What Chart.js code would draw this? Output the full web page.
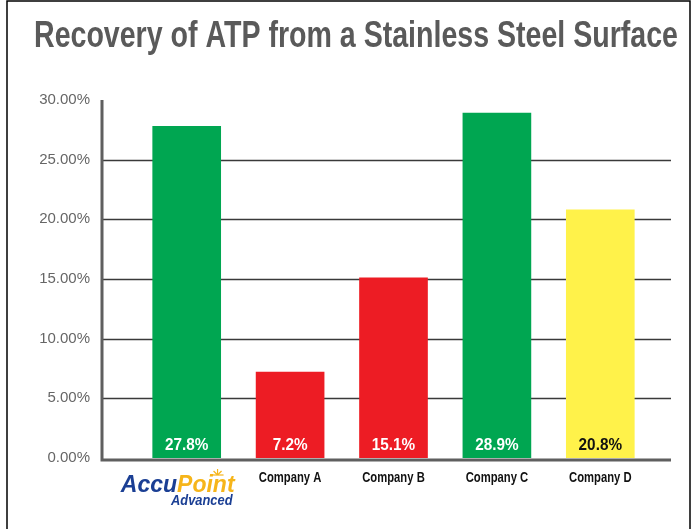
<!DOCTYPE html>
<html>
<head>
    <meta charset="UTF-8">
    <title>Recovery of ATP</title>
    <script src="https://cdn.jsdelivr.net/npm/chart.js"></script>
    <style>
        body { margin: 0; background: #fff; }
    </style>
</head>
<body>
    <canvas id="chart" width="694" height="529"></canvas>

    <script>
        // data
        const title = 'Recovery of ATP from a Stainless Steel Surface';
        const categories = ['AccuPoint Advanced', 'Company A', 'Company B', 'Company C', 'Company D'];
        const recovery = [27.8, 7.2, 15.1, 28.9, 20.8];
        const valueLabels = ['27.8%', '7.2%', '15.1%', '28.9%', '20.8%'];
        const yTickValues = [0, 5, 10, 15, 20, 25, 30];

        const barColors = ['#00a651', '#ed1c24', '#ed1c24', '#00a651', '#fff24a'];
        const labelColors = ['#fff', '#fff', '#fff', '#fff', '#111'];
        const sans = '"Liberation Sans", Arial, sans-serif';

        // condensed look: squeeze a normal bold face horizontally
        function squeezed(ctx, text, x, y, sx, align) {
            ctx.save();
            ctx.translate(x, y);
            ctx.scale(sx, 1);
            ctx.textAlign = align || 'center';
            ctx.fillText(text, 0, 0);
            ctx.restore();
        }

        const frame = {
            id: 'frame',
            beforeDatasetsDraw(chart) {
                const { ctx, chartArea: a, scales: { y } } = chart;
                const x0 = a.left - 33, x1 = a.right + 19;
                ctx.save();
                // outer frame
                ctx.strokeStyle = '#000';
                ctx.lineWidth = 1.5;
                ctx.beginPath();
                ctx.moveTo(7, chart.height);
                ctx.lineTo(7, 1);
                ctx.lineTo(690, 1);
                ctx.lineTo(690, chart.height);
                ctx.stroke();

                // title
                ctx.fillStyle = '#5a5a5a';
                ctx.font = 'bold 36px ' + sans;
                ctx.textBaseline = 'alphabetic';
                const w = ctx.measureText(title).width;
                squeezed(ctx, title, 34, 47, 644 / w, 'left');

                // grid lines
                ctx.strokeStyle = '#3a3a3a';
                ctx.lineWidth = 1.4;
                yTickValues.forEach(v => {
                    if (v === 0 || v === 30) return;
                    const py = Math.round(y.getPixelForValue(v)) + 0.5;
                    ctx.beginPath();
                    ctx.moveTo(x0, py);
                    ctx.lineTo(x1, py);
                    ctx.stroke();
                });
                ctx.restore();
            },
            afterDatasetsDraw(chart) {
                const { ctx, chartArea: a, scales: { x, y } } = chart;
                const x0 = a.left - 33, x1 = a.right + 19;
                const yb = y.getPixelForValue(0);
                ctx.save();
                // axis lines
                ctx.strokeStyle = '#5f5f5f';
                ctx.lineWidth = 3;
                ctx.beginPath();
                ctx.moveTo(x0, y.getPixelForValue(30));
                ctx.lineTo(x0, yb + 2);
                ctx.lineTo(x1, yb + 2);
                ctx.stroke();

                // value labels inside the bars
                const meta = chart.getDatasetMeta(0);
                ctx.font = 'bold 17px ' + sans;
                ctx.textBaseline = 'alphabetic';
                meta.data.forEach((bar, i) => {
                    ctx.fillStyle = labelColors[i];
                    squeezed(ctx, valueLabels[i], bar.x, bar.base - 8, 0.9);
                });

                // category labels
                ctx.fillStyle = '#111';
                ctx.font = 'bold 15px ' + sans;
                categories.forEach((c, i) => {
                    if (i === 0) return;
                    squeezed(ctx, c, x.getPixelForValue(i), yb + 24, 0.75);
                });

                // AccuPoint Advanced logo as text under the first bar
                const cx = x.getPixelForValue(0) - 9;
                ctx.font = 'italic bold 23px ' + sans;
                const wA = ctx.measureText('Accu').width;
                const wP = ctx.measureText('Point').width;
                const left = cx - (wA + wP) / 2;
                ctx.textAlign = 'left';
                ctx.fillStyle = '#1b3f94';
                ctx.fillText('Accu', left, yb + 34);
                ctx.fillStyle = '#f6b51a';
                ctx.fillText('Point', left + wA, yb + 34);
                // little sun above the "i"
                ctx.strokeStyle = '#f6b51a';
                ctx.lineWidth = 1.2;
                const sx = left + wA + wP - 17, sy = yb + 17;
                [[-6, 0], [6, 0], [-4, -4], [4, -4], [0, -6]].forEach(d => {
                    ctx.beginPath();
                    ctx.moveTo(sx, sy);
                    ctx.lineTo(sx + d[0], sy + d[1]);
                    ctx.stroke();
                });
                ctx.fillStyle = '#1b3f94';
                ctx.font = 'italic bold 14px ' + sans;
                squeezed(ctx, 'Advanced', left + wA + wP - 2, yb + 47, 0.92, 'right');
                ctx.restore();
            }
        };

        const ctx = document.getElementById('chart').getContext('2d');
        new Chart(ctx, {
            type: 'bar',
            data: {
                labels: categories,
                datasets: [{
                    data: recovery,
                    backgroundColor: barColors,
                    borderWidth: 0,
                    barThickness: 68
                }]
            },
            options: {
                responsive: false,
                animation: false,
                layout: { padding: { left: 0, right: 42, top: 100, bottom: 71 } },
                plugins: {
                    legend: { display: false },
                    tooltip: { enabled: false }
                },
                scales: {
                    x: { display: false },
                    y: {
                        min: 0,
                        max: 30,
                        afterFit: s => { s.width = 135; },
                        afterBuildTicks: s => { s.ticks = yTickValues.map(v => ({ value: v })); },
                        grid: { display: false, drawTicks: false },
                        border: { display: false },
                        ticks: {
                            color: '#666',
                            padding: 45,
                            font: { family: sans, size: 15 },
                            callback: v => v.toFixed(2) + '%'
                        }
                    }
                }
            },
            plugins: [frame]
        });
    </script>
</body>
</html>
